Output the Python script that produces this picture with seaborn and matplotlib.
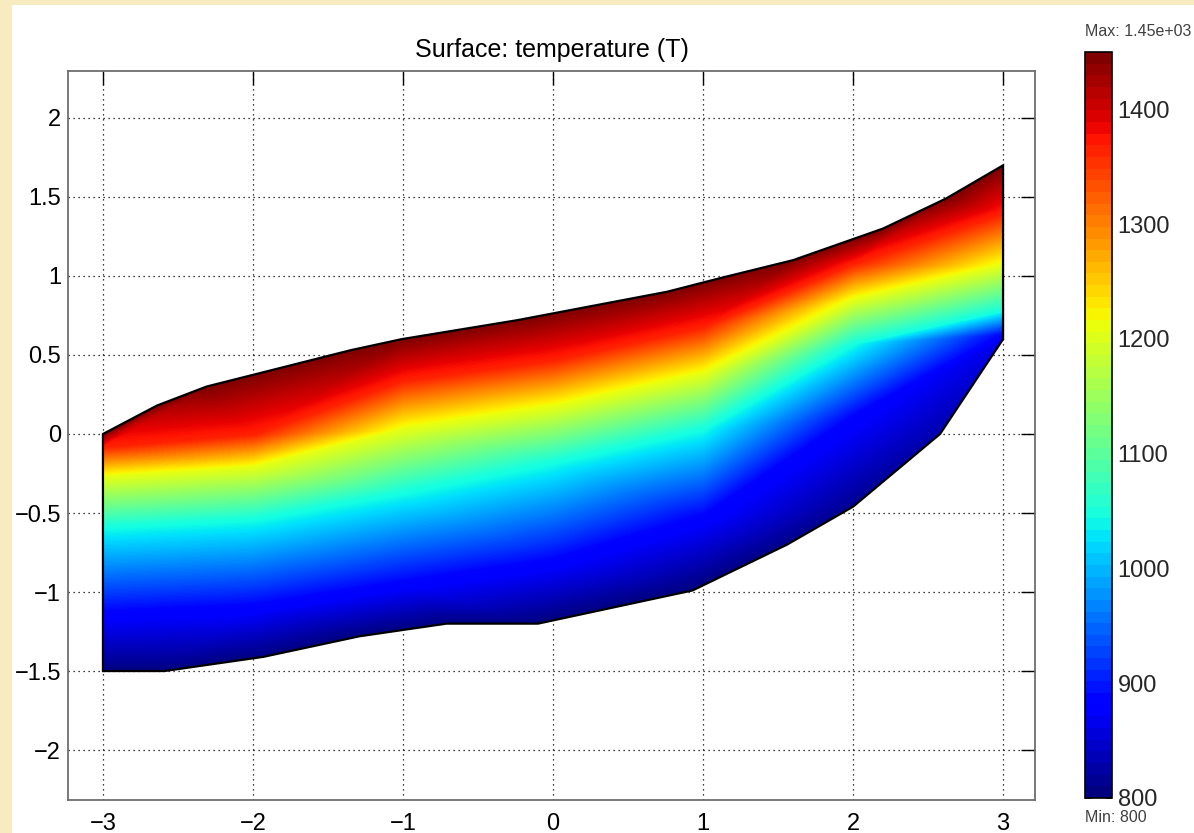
import numpy as np
import matplotlib
matplotlib.use('Agg')
import matplotlib.pyplot as plt
import matplotlib.tri as mtri
from matplotlib.colors import Normalize
from matplotlib.cm import ScalarMappable
from matplotlib.patches import Polygon, Rectangle
from matplotlib.ticker import FuncFormatter
import seaborn as sns

# Domain boundary
upper_x = [-3.0, -2.64, -2.31, -1.35, -1.01, -0.24, 0.76, 1.13, 1.60, 2.20, 2.62, 3.0]
upper_y = [0.0, 0.18, 0.30, 0.53, 0.60, 0.72, 0.90, 0.99, 1.10, 1.30, 1.49, 1.70]
lower_x = [-3.0, -2.59, -1.93, -1.29, -0.71, -0.10, 0.93, 1.56, 2.0, 2.58, 3.0]
lower_y = [-1.5, -1.5, -1.41, -1.28, -1.20, -1.20, -0.99, -0.70, -0.46, 0.0, 0.6]
lower_T = [800, 800, 800, 800, 800, 800, 800, 805, 810, 825, 860]
T_top = 1450

# Temperature profiles: height of each isotherm at a few x stations
station_x = [-3, -2, -1, 0, 1, 2, 3]
iso_T = [881, 1044, 1206, 1369]
iso_y = [
    [-1.13, -1.09, -0.94, -0.80, -0.52, 0.11, 0.63],
    [-0.59, -0.54, -0.37, -0.18, 0.03, 0.57, 0.78],
    [-0.27, -0.21, 0.03, 0.17, 0.38, 0.85, 1.07],
    [-0.08, 0.00, 0.34, 0.47, 0.68, 1.08, 1.40],
]

T_min, T_max = 800, 1450
cbar_ticks = [800, 900, 1000, 1100, 1200, 1300, 1400]
x_ticks = [-3, -2, -1, 0, 1, 2, 3]
y_ticks = [-2, -1.5, -1, -0.5, 0, 0.5, 1, 1.5, 2]

sns.set_theme(style='white')
plt.rcParams['font.family'] = ['Liberation Sans', 'DejaVu Sans']

W, H = 1194, 833
fig = plt.figure(figsize=(W / 100, H / 100), dpi=100, facecolor='#f8ebbf')
fig.patches.append(Rectangle((12 / W, 0), 1 - 12 / W, 1 - 5 / H,
                             transform=fig.transFigure, facecolor='white',
                             edgecolor='none', zorder=-10))

ax = fig.add_axes([68 / W, 33 / H, 967 / W, 729 / H])
ax.set_facecolor('white')

# rows of nodes from the bottom boundary up to the top boundary
rows = [(lower_x, lower_y, lower_T)]
for T, ys in zip(iso_T, iso_y):
    rows.append((station_x, ys, [T] * len(ys)))
rows.append((upper_x, upper_y, [T_top] * len(upper_x)))

px, py, pT, starts = [], [], [], []
for xs, ys, ts in rows:
    starts.append(len(px))
    px += list(xs)
    py += list(ys)
    pT += list(ts)

# stitch each pair of neighbouring rows into a strip of triangles
triangles = []
for k in range(len(rows) - 1):
    a0, na = starts[k], len(rows[k][0])
    b0, nb = starts[k + 1], len(rows[k + 1][0])
    i = j = 0
    while i < na - 1 or j < nb - 1:
        step_a = j == nb - 1 or (i < na - 1 and px[a0 + i + 1] <= px[b0 + j + 1])
        if step_a:
            triangles.append([a0 + i, a0 + i + 1, b0 + j])
            i += 1
        else:
            triangles.append([a0 + i, b0 + j + 1, b0 + j])
            j += 1

tri = mtri.Triangulation(px, py, triangles)
ax.tricontourf(tri, pT, levels=np.linspace(T_min, T_max, 261), cmap='jet',
               vmin=T_min, vmax=T_max, zorder=2, antialiased=False)

outline = list(zip(upper_x, upper_y)) + list(zip(lower_x, lower_y))[::-1]
ax.add_patch(Polygon(outline, closed=True, facecolor='none', edgecolor='black',
                     linewidth=1.6, zorder=3))

ax.set_xlim(-3.233, 3.213)
ax.set_ylim(-2.316, 2.297)
ax.set_xticks(x_ticks)
ax.set_yticks(y_ticks)
fmt = FuncFormatter(lambda v, p: ('%g' % v).replace('-', '\u2212'))
ax.xaxis.set_major_formatter(fmt)
ax.yaxis.set_major_formatter(fmt)
ax.tick_params(axis='both', direction='in', length=10, width=1, color='black',
               top=True, right=True, labelsize=17, labelcolor='black')
ax.tick_params(axis='x', pad=9)
ax.tick_params(axis='y', pad=5)
ax.grid(True, color='black', linestyle=(0, (1, 3)), linewidth=0.9)
ax.set_axisbelow(True)
for s in ax.spines.values():
    s.set_color('#6e6e6e')
    s.set_linewidth(1.3)
ax.set_title('Surface: temperature (T)', fontsize=18, pad=10, color='black')

# colour bar
cax = fig.add_axes([1085 / W, 35 / H, 27 / W, 746 / H])
jet64 = plt.get_cmap('jet').resampled(64)
cb = fig.colorbar(ScalarMappable(norm=Normalize(T_min, T_max), cmap=jet64),
                  cax=cax, ticks=cbar_ticks)
cb.outline.set_edgecolor('black')
cb.outline.set_linewidth(1.2)
cax.tick_params(direction='in', length=4, width=1.2, color='black',
                left=True, right=True, labelsize=17, pad=4)

fig.text(1085 / W, 1 - 31 / H, 'Max: 1.45e+03', fontsize=11.5,
         color='#404040', va='center', ha='left')
fig.text(1085 / W, 1 - 818 / H, 'Min: 800', fontsize=11.5,
         color='#404040', va='center', ha='left')

fig.savefig('out.png', dpi=100, facecolor=fig.get_facecolor())
